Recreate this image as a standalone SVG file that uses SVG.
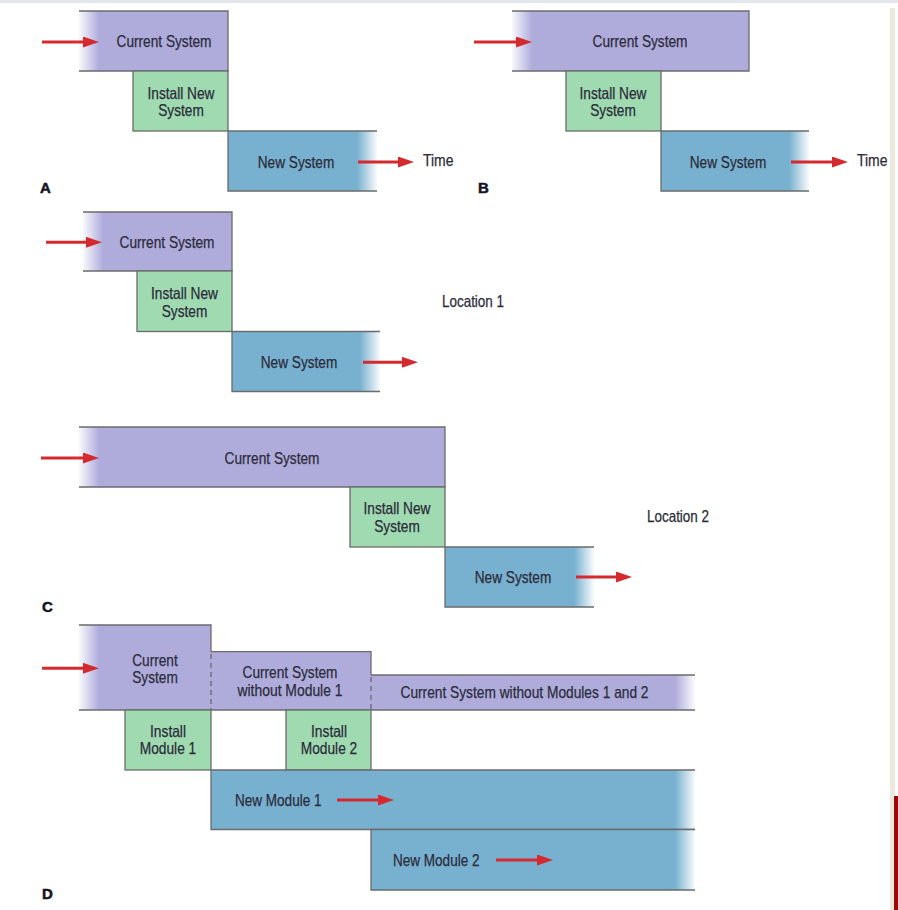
<svg xmlns="http://www.w3.org/2000/svg" width="898" height="910" viewBox="0 0 898 910">
<style>
.cur{fill:#afacdc}
.ins{fill:#a0dab1}
.new{fill:#78b0cf}
.bd{fill:none;stroke:#6b6b6b;stroke-width:1.3}
.dash{fill:none;stroke:#6b6b6b;stroke-width:1.3;stroke-dasharray:5,4}
.t{font-family:"Liberation Sans Narrow","Liberation Sans",Arial,sans-serif;font-size:16.5px;fill:#2b2b3a;stroke:#2b2b3a;stroke-width:0.25}
.m{text-anchor:middle}
.lbl{font-family:"Liberation Sans",Arial,sans-serif;font-size:15px;font-weight:bold;fill:#14141f;stroke:#14141f;stroke-width:0.5}
.arr{stroke:#d42a2e;stroke-width:3;fill:none;marker-end:url(#ah)}
</style>
<defs>
<marker id="ah" markerUnits="userSpaceOnUse" markerWidth="16" markerHeight="11" refX="2" refY="5.5" orient="auto">
<path d="M0,0 L16,5.5 L0,11 z" fill="#d42a2e"/>
</marker>
<linearGradient id="fl" x1="0" y1="0" x2="1" y2="0">
<stop offset="0" stop-color="#fff" stop-opacity="0.92"/>
<stop offset="1" stop-color="#fff" stop-opacity="0"/>
</linearGradient>
<linearGradient id="fr" x1="0" y1="0" x2="1" y2="0">
<stop offset="0" stop-color="#fff" stop-opacity="0"/>
<stop offset="1" stop-color="#fff" stop-opacity="0.95"/>
</linearGradient>
</defs>
<rect x="0" y="0" width="898" height="910" fill="#fff"/>
<rect x="0" y="0" width="898" height="3" fill="#e4e6ed"/>
<rect x="890" y="8" width="5" height="902" fill="#ede9df"/>
<rect x="894" y="796" width="4" height="114" fill="#9b0a0a"/>

<!-- Panel A -->
<g id="a-current">
<rect class="cur" x="79" y="11" width="149" height="60"/>
<rect fill="url(#fl)" x="79" y="11" width="20" height="60"/>
<path class="bd" d="M79,11 H228 V71 H79"/>
<text class="t m" x="164" y="47" textLength="95" lengthAdjust="spacingAndGlyphs">Current System</text>
</g>
<g id="a-install">
<rect class="ins" x="133" y="71" width="95" height="60"/>
<rect class="bd" x="133" y="71" width="95" height="60"/>
<text class="t m" x="181" y="98.5" textLength="67" lengthAdjust="spacingAndGlyphs">Install New</text>
<text class="t m" x="181" y="116" textLength="45.5" lengthAdjust="spacingAndGlyphs">System</text>
</g>
<g id="a-new">
<rect class="new" x="228" y="131" width="149" height="60"/>
<rect fill="url(#fr)" x="357" y="131" width="20" height="60"/>
<path class="bd" d="M377,131 H228 V191 H377"/>
<text class="t m" x="296" y="167.5" textLength="76.5" lengthAdjust="spacingAndGlyphs">New System</text>
</g>
<text id="a-time" class="t" x="423" y="166" textLength="30.5" lengthAdjust="spacingAndGlyphs">Time</text>
<text id="a-label" class="lbl" x="40" y="193">A</text>

<!-- Panel B -->
<g id="b-current">
<rect class="cur" x="512" y="11" width="237" height="60"/>
<rect fill="url(#fl)" x="512" y="11" width="20" height="60"/>
<path class="bd" d="M512,11 H749 V71 H512"/>
<text class="t m" x="640" y="47" textLength="95" lengthAdjust="spacingAndGlyphs">Current System</text>
</g>
<g id="b-install">
<rect class="ins" x="566" y="71" width="95" height="60"/>
<rect class="bd" x="566" y="71" width="95" height="60"/>
<text class="t m" x="613" y="98.5" textLength="67" lengthAdjust="spacingAndGlyphs">Install New</text>
<text class="t m" x="613" y="116" textLength="45.5" lengthAdjust="spacingAndGlyphs">System</text>
</g>
<g id="b-new">
<rect class="new" x="661" y="131" width="148" height="60"/>
<rect fill="url(#fr)" x="789" y="131" width="20" height="60"/>
<path class="bd" d="M809,131 H661 V191 H809"/>
<text class="t m" x="728" y="167.5" textLength="76.5" lengthAdjust="spacingAndGlyphs">New System</text>
</g>
<text id="b-time" class="t" x="857" y="166" textLength="30.5" lengthAdjust="spacingAndGlyphs">Time</text>
<text id="b-label" class="lbl" x="478" y="193">B</text>

<!-- Panel C, location 1 -->
<g id="c1-current">
<rect class="cur" x="83" y="212" width="149" height="59"/>
<rect fill="url(#fl)" x="83" y="212" width="20" height="59"/>
<path class="bd" d="M83,212 H232 V271 H83"/>
<text class="t m" x="167" y="248" textLength="95" lengthAdjust="spacingAndGlyphs">Current System</text>
</g>
<g id="c1-install">
<rect class="ins" x="137" y="271" width="95" height="60.5"/>
<rect class="bd" x="137" y="271" width="95" height="60.5"/>
<text class="t m" x="184.5" y="299" textLength="67" lengthAdjust="spacingAndGlyphs">Install New</text>
<text class="t m" x="184.5" y="316.5" textLength="45.5" lengthAdjust="spacingAndGlyphs">System</text>
</g>
<g id="c1-new">
<rect class="new" x="232" y="331.5" width="148" height="60"/>
<rect fill="url(#fr)" x="360" y="331.5" width="20" height="60"/>
<path class="bd" d="M380,331.5 H232 V391.5 H380"/>
<text class="t m" x="299" y="368" textLength="76.5" lengthAdjust="spacingAndGlyphs">New System</text>
</g>
<text id="c1-loc" class="t" x="442" y="306.5" textLength="62" lengthAdjust="spacingAndGlyphs">Location 1</text>

<!-- Panel C, location 2 -->
<g id="c2-current">
<rect class="cur" x="79" y="427" width="366" height="60"/>
<rect fill="url(#fl)" x="79" y="427" width="20" height="60"/>
<path class="bd" d="M79,427 H445 V487 H79"/>
<text class="t m" x="272" y="463.5" textLength="95" lengthAdjust="spacingAndGlyphs">Current System</text>
</g>
<g id="c2-install">
<rect class="ins" x="350" y="487" width="95" height="60"/>
<rect class="bd" x="350" y="487" width="95" height="60"/>
<text class="t m" x="397" y="514" textLength="67" lengthAdjust="spacingAndGlyphs">Install New</text>
<text class="t m" x="397" y="531.5" textLength="45.5" lengthAdjust="spacingAndGlyphs">System</text>
</g>
<g id="c2-new">
<rect class="new" x="445" y="547" width="149" height="60"/>
<rect fill="url(#fr)" x="574" y="547" width="20" height="60"/>
<path class="bd" d="M594,547 H445 V607 H594"/>
<text class="t m" x="513" y="582.5" textLength="76.5" lengthAdjust="spacingAndGlyphs">New System</text>
</g>
<text id="c2-loc" class="t" x="647" y="521.5" textLength="62" lengthAdjust="spacingAndGlyphs">Location 2</text>
<text id="c-label" class="lbl" x="42" y="612">C</text>

<!-- Panel D -->
<g id="d-current">
<rect class="cur" x="79" y="625" width="132" height="85"/>
<rect fill="url(#fl)" x="79" y="625" width="20" height="85"/>
<path class="bd" d="M79,625 H211 V651.7"/>
<path class="bd" d="M79,710 H211"/>
<text class="t m" x="155" y="665.5" textLength="45.5" lengthAdjust="spacingAndGlyphs">Current</text>
<text class="t m" x="155" y="683" textLength="45.5" lengthAdjust="spacingAndGlyphs">System</text>
</g>
<g id="d-current-wo1">
<rect class="cur" x="211" y="651.7" width="160" height="58.3"/>
<path class="bd" d="M211,651.7 H371 V675"/>
<path class="dash" d="M211,654 V710"/>
<path class="bd" d="M211,710 H371"/>
<text class="t m" x="290" y="678" textLength="95" lengthAdjust="spacingAndGlyphs">Current System</text>
<text class="t m" x="290" y="695.5" textLength="105" lengthAdjust="spacingAndGlyphs">without Module 1</text>
</g>
<g id="d-current-wo12">
<rect class="cur" x="371" y="675" width="324" height="35"/>
<rect fill="url(#fr)" x="675" y="675" width="20" height="35"/>
<path class="bd" d="M371,675 H695"/>
<path class="dash" d="M371,677 V710"/>
<path class="bd" d="M371,710 H695"/>
<text class="t m" x="524.5" y="698" textLength="248" lengthAdjust="spacingAndGlyphs">Current System without Modules 1 and 2</text>
</g>
<g id="d-install1">
<rect class="ins" x="125" y="710" width="86" height="60"/>
<rect class="bd" x="125" y="710" width="86" height="60"/>
<text class="t m" x="168" y="737" textLength="36" lengthAdjust="spacingAndGlyphs">Install</text>
<text class="t m" x="168" y="754" textLength="56.5" lengthAdjust="spacingAndGlyphs">Module 1</text>
</g>
<g id="d-install2">
<rect class="ins" x="286" y="710" width="85" height="60"/>
<rect class="bd" x="286" y="710" width="85" height="60"/>
<text class="t m" x="329" y="737" textLength="36" lengthAdjust="spacingAndGlyphs">Install</text>
<text class="t m" x="329" y="754" textLength="56.5" lengthAdjust="spacingAndGlyphs">Module 2</text>
</g>
<g id="d-new1">
<rect class="new" x="211" y="770" width="484" height="59.5"/>
<rect fill="url(#fr)" x="675" y="770" width="20" height="59.5"/>
<path class="bd" d="M695,770 H211 V829.5 H695"/>
<text class="t" x="235" y="805.5" textLength="86.5" lengthAdjust="spacingAndGlyphs">New Module 1</text>
</g>
<g id="d-new2">
<rect class="new" x="371" y="829.5" width="324" height="60.5"/>
<rect fill="url(#fr)" x="675" y="829.5" width="20" height="60.5"/>
<path class="bd" d="M695,829.5 H371 V890 H695"/>
<text class="t" x="393" y="865.5" textLength="86.5" lengthAdjust="spacingAndGlyphs">New Module 2</text>
</g>
<text id="d-label" class="lbl" x="42" y="899">D</text>

<g id="connectors">
<line class="arr" x1="42" y1="42" x2="85" y2="42"/>
<line class="arr" x1="358" y1="162" x2="400" y2="162"/>
<line class="arr" x1="474" y1="42" x2="518" y2="42"/>
<line class="arr" x1="791" y1="162" x2="834" y2="162"/>
<line class="arr" x1="46" y1="242.3" x2="88" y2="242.3"/>
<line class="arr" x1="363" y1="362.3" x2="404" y2="362.3"/>
<line class="arr" x1="41" y1="458" x2="85" y2="458"/>
<line class="arr" x1="576" y1="577" x2="618" y2="577"/>
<line class="arr" x1="42" y1="668.3" x2="85" y2="668.3"/>
<line class="arr" x1="337" y1="800" x2="380" y2="800"/>
<line class="arr" x1="496" y1="860" x2="539" y2="860"/>
</g>
</svg>
